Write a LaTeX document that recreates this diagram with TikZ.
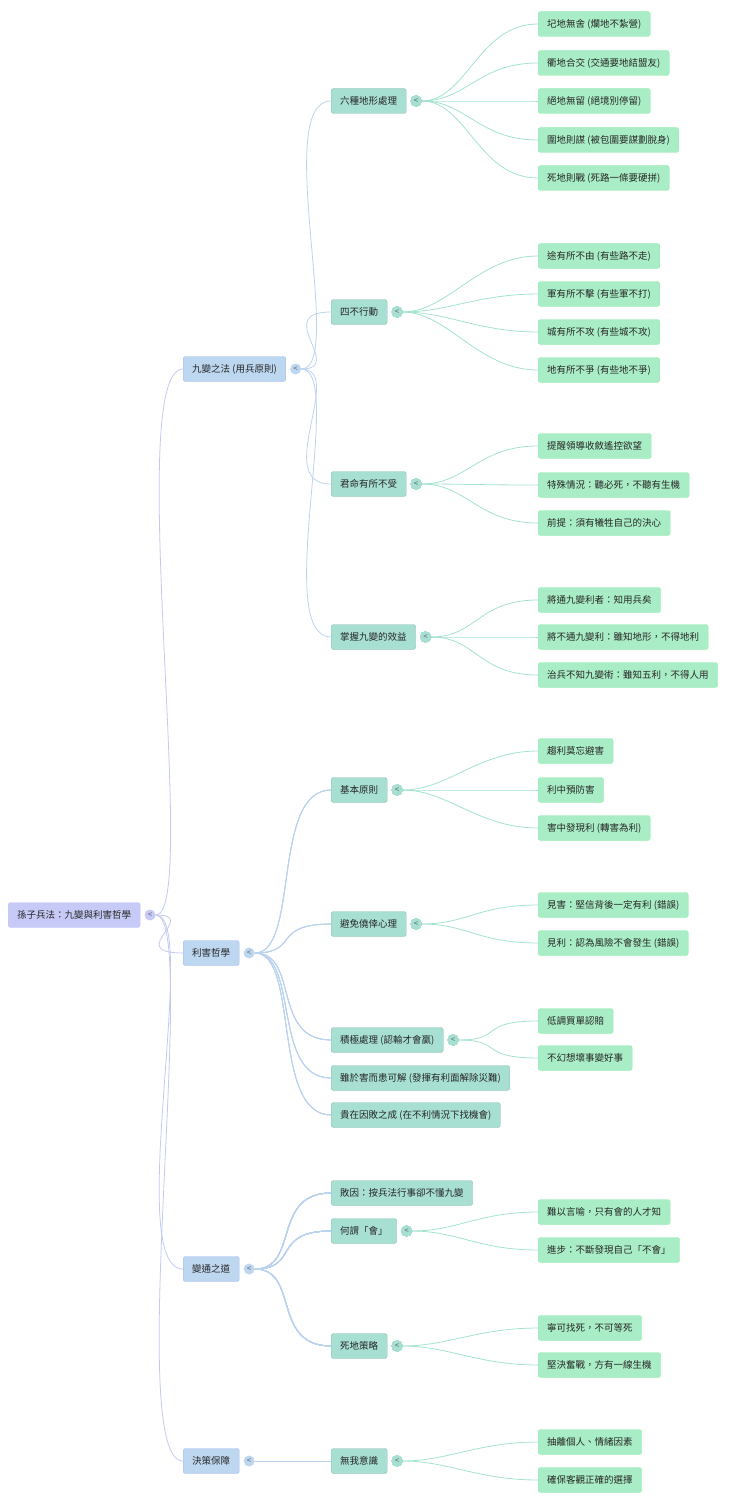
\documentclass[tikz,border=0pt]{standalone}
\usepackage{fontspec}
\setmainfont{Noto Sans CJK TC}
\usetikzlibrary{positioning}

\definecolor{fRoot}{HTML}{C7CAF6}
\definecolor{fEins}{HTML}{BDD7F0}
\definecolor{fZwei}{HTML}{A7DFD3}
\definecolor{fDrei}{HTML}{A9EDC6}
\definecolor{lEins}{HTML}{C3CAF2}
\definecolor{lZwei}{HTML}{BCD3EF}
\definecolor{lDrei}{HTML}{A3E3CC}

\tikzset{
  box/.style={anchor=west, rounded corners=2.5pt, minimum height=25pt, inner xsep=9pt, font=\fontsize{9.5}{11}\selectfont, text=black!85},
  root/.style={box, fill=fRoot, draw=fRoot!80!blue!60},
  eins/.style={box, fill=fEins, draw=fEins!85!blue},
  zwei/.style={box, fill=fZwei, draw=fZwei!85!black},
  drei/.style={box, fill=fDrei, draw=fDrei!85!green},
  tog/.style={circle, inner sep=0pt, minimum size=11pt, font=\fontsize{8}{8}\selectfont, text=black!60},
  ast/.style={line width=0.8pt},
}
% Ast von Knopf zu Knoten
\newcommand\Ast[3]{\draw[ast,#3] (#1.east) .. controls +(45,0) and +(-60,0) .. (#2.west);}

\begin{document}
\begin{tikzpicture}[x=1pt,y=-1pt]
\useasboundingbox (0,0) rectangle (740,1506);

% Wurzel
\node[root] (R) at (8,915) {孫子兵法：九變與利害哲學};
\node[tog, fill=fRoot] (tR) [right=4pt of R] {<};

% erste Ebene
\node[eins] (A) at (183,369) {九變之法 (用兵原則)};
\node[eins] (B) at (183,953) {利害哲學};
\node[eins] (C) at (183,1269) {變通之道};
\node[eins] (D) at (183,1461) {決策保障};
\foreach \n in {A,B,C,D} {
  \node[tog, fill=fEins] (t\n) [right=4pt of \n] {<};
  \Ast{tR}{\n}{lEins}
}

% zweite Ebene
\node[zwei] (A1) at (331,101) {六種地形處理};
\node[zwei] (A2) at (331,312) {四不行動};
\node[zwei] (A3) at (331,484) {君命有所不受};
\node[zwei] (A4) at (331,637) {掌握九變的效益};
\node[zwei] (B1) at (331,790) {基本原則};
\node[zwei] (B2) at (331,924) {避免僥倖心理};
\node[zwei] (B3) at (331,1040) {積極處理 (認輸才會贏)};
\node[zwei] (B4) at (331,1078) {雖於害而患可解 (發揮有利面解除災難)};
\node[zwei] (B5) at (331,1115) {貴在因敗之成 (在不利情況下找機會)};
\node[zwei] (C1) at (331,1193) {敗因：按兵法行事卻不懂九變};
\node[zwei] (C2) at (331,1231) {何謂「會」};
\node[zwei] (C3) at (331,1346) {死地策略};
\node[zwei] (D1) at (331,1461) {無我意識};
\foreach \n in {A1,A2,A3,A4} \Ast{tA}{\n}{lZwei}
\foreach \n in {B1,B2,B3,B4,B5} \Ast{tB}{\n}{lZwei}
\foreach \n in {C1,C2,C3} \Ast{tC}{\n}{lZwei}
\Ast{tD}{D1}{lZwei}
\foreach \n in {A1,A2,A3,A4,B1,B2,B3,C2,C3,D1}
  \node[tog, fill=fZwei] (t\n) [right=4pt of \n] {<};

% dritte Ebene
\foreach \p/\y/\t [count=\i] in {
  A1/24/圮地無舍 (爛地不紮營),
  A1/63/衢地合交 (交通要地結盟友),
  A1/101/絕地無留 (絕境別停留),
  A1/140/圍地則謀 (被包圍要謀劃脫身),
  A1/178/死地則戰 (死路一條要硬拼),
  A2/256/途有所不由 (有些路不走),
  A2/294/軍有所不擊 (有些軍不打),
  A2/332/城有所不攻 (有些城不攻),
  A2/370/地有所不爭 (有些地不爭),
  A3/446/提醒領導收斂遙控欲望,
  A3/485/特殊情況：聽必死，不聽有生機,
  A3/523/前提：須有犧牲自己的決心,
  A4/600/將通九變利者：知用兵矣,
  A4/637/將不通九變利：雖知地形，不得地利,
  A4/675/治兵不知九變術：雖知五利，不得人用,
  B1/751/趨利莫忘避害,
  B1/790/利中預防害,
  B1/828/害中發現利 (轉害為利),
  B2/905/見害：堅信背後一定有利 (錯誤),
  B2/943/見利：認為風險不會發生 (錯誤),
  B3/1021/低調買單認賠,
  B3/1058/不幻想壞事變好事,
  C2/1212/難以言喻，只有會的人才知,
  C2/1250/進步：不斷發現自己「不會」,
  C3/1328/寧可找死，不可等死,
  C3/1365/堅決奮戰，方有一線生機,
  D1/1442/抽離個人、情緒因素,
  D1/1480/確保客觀正確的選擇} {
  \node[drei] (L\i) at (538,\y) {\t};
  \Ast{t\p}{L\i}{lDrei}
}

\end{tikzpicture}
\end{document}
